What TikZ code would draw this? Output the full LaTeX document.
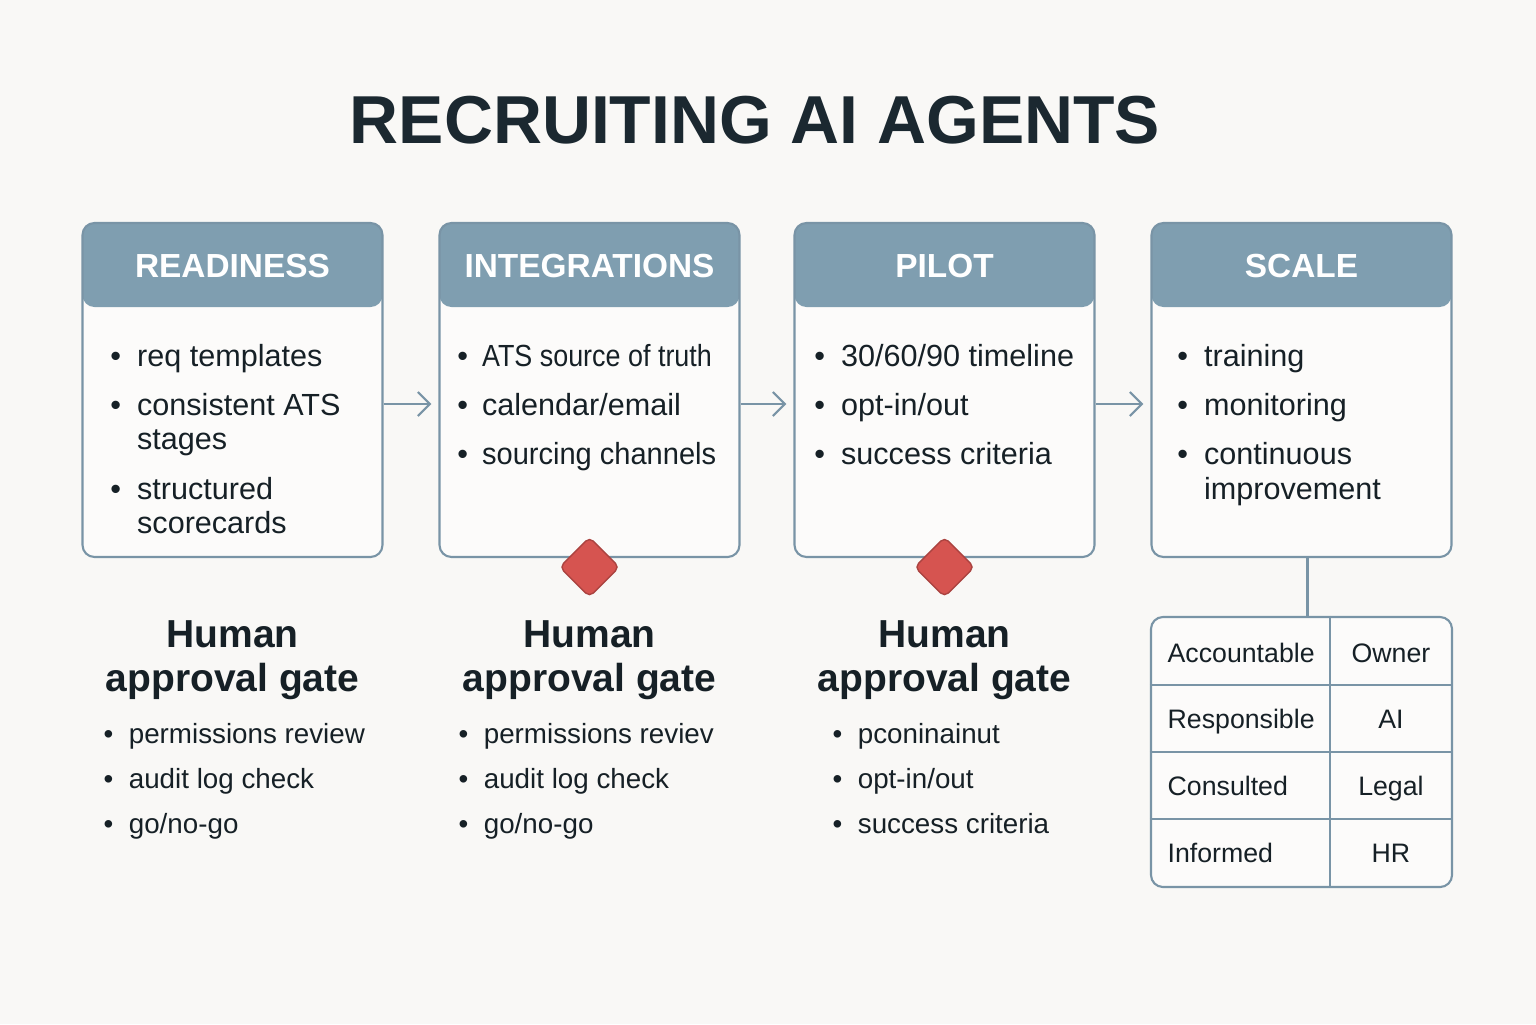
\documentclass[tikz,border=0pt]{standalone}
\usepackage{fontspec}
\setmainfont{Liberation Sans}
\usepackage{xcolor}
\usepackage{tikz}
\usetikzlibrary{arrows.meta,positioning,shapes.geometric}

\definecolor{pagebg}{RGB}{249,248,246}
\definecolor{cardbg}{RGB}{252,251,250}
\definecolor{hdrblue}{RGB}{127,158,176}
\definecolor{edgeblue}{RGB}{121,148,166}
\definecolor{ink}{RGB}{22,32,38}
\definecolor{titleink}{RGB}{27,40,48}
\definecolor{gatered}{RGB}{214,84,80}

\newcommand{\bulletlist}[2][4.6pt]{\begin{tabular}{@{}l@{\hspace{#1}}l@{}}#2\end{tabular}}

\begin{document}
\begin{tikzpicture}[
    x=1cm, y=1cm,
    font=\fontsize{8.7}{9.7}\selectfont,
    stage/.style={
        draw=edgeblue,
        line width=0.6pt,
        fill=cardbg,
        rounded corners=3.4pt,
        minimum width=3cm,
        minimum height=3.34cm,
        inner sep=0pt,
        path picture={\fill[hdrblue] (path picture bounding box.north west)
            rectangle ([yshift=-8.4mm]path picture bounding box.north east);}
    },
    headtext/.style={
        text=white,
        font=\fontsize{9.5}{11}\selectfont\bfseries
    },
    bullets/.style={
        anchor=north west,
        inner sep=0pt,
        text=ink
    },
    gatehead/.style={
        inner sep=0pt,
        align=center,
        text=ink,
        font=\fontsize{11.1}{12.5}\selectfont\bfseries
    },
    gatelist/.style={
        anchor=north west,
        inner sep=0pt,
        text=ink,
        font=\fontsize{7.9}{12.8}\selectfont
    },
    gate/.style={
        diamond,
        aspect=1,
        draw=gatered!80!black,
        fill=gatered,
        minimum width=6mm,
        minimum height=6mm,
        inner sep=0pt,
        rounded corners=1.5pt
    },
    raci/.style={
        draw=edgeblue,
        line width=0.6pt,
        fill=cardbg,
        rounded corners=3.4pt,
        minimum width=3.01cm,
        minimum height=2.7cm,
        inner sep=0pt
    },
    cell/.style={
        inner sep=0pt,
        text=ink,
        font=\fontsize{7.6}{9}\selectfont
    },
    flow/.style={-{Straight Barb[length=1.2mm,width=2.4mm]}, draw=edgeblue, line width=0.6pt, shorten >=0.7mm}
]
    \fill[pagebg] (0,0) rectangle (15.36,-10.24);

    \node[text=titleink, font=\fontsize{19.3}{22}\selectfont\bfseries] (ttl) at (7.55,-1.20) {RECRUITING AI AGENTS};

    % stages
    \node[stage] (rd) at (2.325,-3.90) {};
    \node[stage] (in) at (5.895,-3.90) {};
    \node[stage] (pl) at (9.445,-3.90) {};
    \node[stage] (sc) at (13.015,-3.90) {};

    \node[headtext] (rdh) at ([yshift=-4.4mm]rd.north) {READINESS};
    \node[headtext] (inh) at ([yshift=-4.4mm]in.north) {INTEGRATIONS};
    \node[headtext] (plh) at ([yshift=-4.4mm]pl.north) {PILOT};
    \node[headtext] (sch) at ([yshift=-4.4mm]sc.north) {SCALE};

    \node[bullets] (rdl) at (1.096,-3.42) {\bulletlist{
        \textbullet & req templates\\[4.3pt]
        \textbullet & consistent ATS\\
                    & stages\\[4.3pt]
        \textbullet & structured\\
                    & scorecards}};
    \node[bullets] (inl) at (4.566,-3.42) {\bulletlist[4pt]{
        \textbullet & \scalebox{0.88}[1]{ATS source of truth}\\[4.3pt]
        \textbullet & calendar/email\\[4.3pt]
        \textbullet & \scalebox{0.95}[1]{sourcing channels}}};
    \node[bullets] (pll) at (8.136,-3.42) {\bulletlist{
        \textbullet & 30/60/90 timeline\\[4.3pt]
        \textbullet & opt-in/out\\[4.3pt]
        \textbullet & success criteria}};
    \node[bullets] (scl) at (11.766,-3.42) {\bulletlist{
        \textbullet & training\\[4.3pt]
        \textbullet & monitoring\\[4.3pt]
        \textbullet & continuous\\
                    & improvement}};

    \draw[flow] ([yshift=-1.4mm]rd.east) -- ([yshift=-1.4mm]in.west);
    \draw[flow] ([yshift=-1.4mm]in.east) -- ([yshift=-1.4mm]pl.west);
    \draw[flow] ([yshift=-1.4mm]pl.east) -- ([yshift=-1.4mm]sc.west);

    % approval gates
    \node[gate] (ingate) at ([yshift=-0.9mm]in.south) {};
    \node[gate] (plgate) at ([yshift=-0.9mm]pl.south) {};

    \node[gatehead, below=6.2mm of rd] (rdg) {Human\\approval gate};
    \node[gatehead, below=6.2mm of in] (ing) {Human\\approval gate};
    \node[gatehead, below=6.2mm of pl] (plg) {Human\\approval gate};

    \node[gatelist] (rdgl) at (1.03,-7.11) {\bulletlist[4.4pt]{
        \textbullet & permissions review\\
        \textbullet & audit log check\\
        \textbullet & go/no-go}};
    \node[gatelist] (ingl) at (4.58,-7.11) {\bulletlist[4.4pt]{
        \textbullet & permissions reviev\\
        \textbullet & audit log check\\
        \textbullet & go/no-go}};
    \node[gatelist] (plgl) at (8.32,-7.11) {\bulletlist[4.4pt]{
        \textbullet & pconinainut\\
        \textbullet & opt-in/out\\
        \textbullet & success criteria}};

    % RACI table
    \node[raci] (raci) at (13.015,-7.52) {};
    \draw[edgeblue, line width=0.6pt] ([xshift=0.6mm]sc.south) -- ([xshift=0.6mm]raci.north);
    \draw[edgeblue, line width=0.6pt] ([yshift=-6.9mm]raci.north west) -- ([yshift=-6.9mm]raci.north east);
    \draw[edgeblue, line width=0.6pt] ([yshift=-13.6mm]raci.north west) -- ([yshift=-13.6mm]raci.north east);
    \draw[edgeblue, line width=0.6pt] ([yshift=-20.3mm]raci.north west) -- ([yshift=-20.3mm]raci.north east);
    \draw[edgeblue, line width=0.6pt] ([xshift=18mm]raci.north west) -- ([xshift=18mm]raci.south west);

    \node[cell, anchor=base west] (acc) at ([xshift=1.7mm,yshift=-4.7mm]raci.north west) {Accountable};
    \node[cell, anchor=base west] (res) at ([xshift=1.7mm,yshift=-11.3mm]raci.north west) {Responsible};
    \node[cell, anchor=base west] (con) at ([xshift=1.7mm,yshift=-18.0mm]raci.north west) {Consulted};
    \node[cell, anchor=base west] (inf) at ([xshift=1.7mm,yshift=-24.7mm]raci.north west) {Informed};
    \node[cell, anchor=base] (own) at ([xshift=24.1mm,yshift=-4.7mm]raci.north west) {Owner};
    \node[cell, anchor=base] (ai) at ([xshift=24.1mm,yshift=-11.3mm]raci.north west) {AI};
    \node[cell, anchor=base] (leg) at ([xshift=24.1mm,yshift=-18.0mm]raci.north west) {Legal};
    \node[cell, anchor=base] (hr) at ([xshift=24.1mm,yshift=-24.7mm]raci.north west) {HR};
\end{tikzpicture}
\end{document}
